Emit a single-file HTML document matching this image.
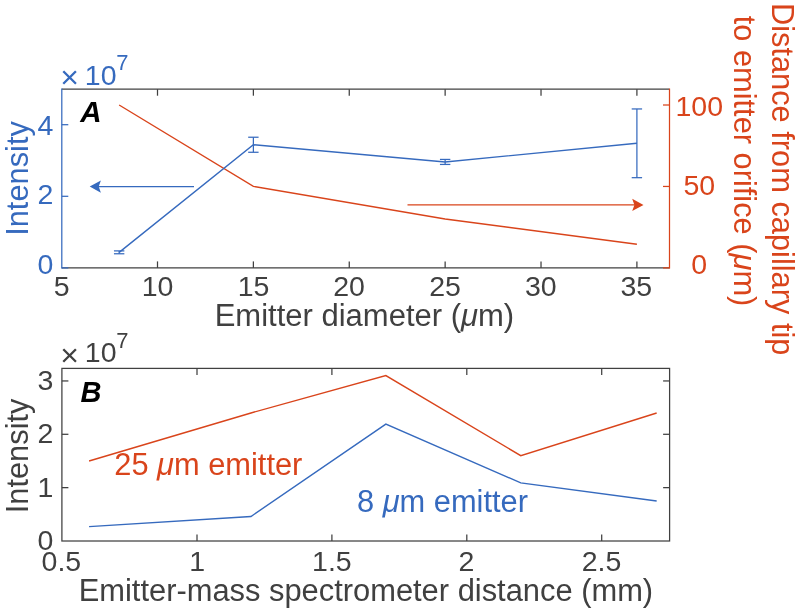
<!DOCTYPE html>
<html><head><meta charset="utf-8"><title>Figure</title>
<style>
html,body{margin:0;padding:0;background:#fff;}
body{width:800px;height:613px;overflow:hidden;}
svg{display:block;will-change:transform;}
svg text{font-family:"Liberation Sans",sans-serif;}
</style></head><body>
<svg width="800" height="613" viewBox="0 0 800 613">
<rect x="0" y="0" width="800" height="613" fill="#ffffff"/>
<g id="plotA">
<line x1="61.80" y1="89.20" x2="669.50" y2="89.20" stroke="#404040" stroke-width="1.25"/>
<line x1="61.80" y1="267.90" x2="669.50" y2="267.90" stroke="#404040" stroke-width="1.25"/>
<line x1="61.80" y1="88.58" x2="61.80" y2="268.52" stroke="#366abe" stroke-width="1.25"/>
<line x1="669.50" y1="88.58" x2="669.50" y2="268.52" stroke="#d9441b" stroke-width="1.25"/>
<text x="61.70" y="296.00" fill="#404040" font-size="28.5" text-anchor="middle" >5</text>
<line x1="157.50" y1="267.90" x2="157.50" y2="261.40" stroke="#404040" stroke-width="1.25"/>
<line x1="157.50" y1="89.20" x2="157.50" y2="95.70" stroke="#404040" stroke-width="1.25"/>
<text x="157.60" y="296.00" fill="#404040" font-size="28.5" text-anchor="middle" >10</text>
<line x1="253.38" y1="267.90" x2="253.38" y2="261.40" stroke="#404040" stroke-width="1.25"/>
<line x1="253.38" y1="89.20" x2="253.38" y2="95.70" stroke="#404040" stroke-width="1.25"/>
<text x="253.60" y="296.00" fill="#404040" font-size="28.5" text-anchor="middle" >15</text>
<line x1="349.26" y1="267.90" x2="349.26" y2="261.40" stroke="#404040" stroke-width="1.25"/>
<line x1="349.26" y1="89.20" x2="349.26" y2="95.70" stroke="#404040" stroke-width="1.25"/>
<text x="349.00" y="296.00" fill="#404040" font-size="28.5" text-anchor="middle" >20</text>
<line x1="445.14" y1="267.90" x2="445.14" y2="261.40" stroke="#404040" stroke-width="1.25"/>
<line x1="445.14" y1="89.20" x2="445.14" y2="95.70" stroke="#404040" stroke-width="1.25"/>
<text x="445.00" y="296.00" fill="#404040" font-size="28.5" text-anchor="middle" >25</text>
<line x1="541.02" y1="267.90" x2="541.02" y2="261.40" stroke="#404040" stroke-width="1.25"/>
<line x1="541.02" y1="89.20" x2="541.02" y2="95.70" stroke="#404040" stroke-width="1.25"/>
<text x="540.80" y="296.00" fill="#404040" font-size="28.5" text-anchor="middle" >30</text>
<line x1="636.90" y1="267.90" x2="636.90" y2="261.40" stroke="#404040" stroke-width="1.25"/>
<line x1="636.90" y1="89.20" x2="636.90" y2="95.70" stroke="#404040" stroke-width="1.25"/>
<text x="636.30" y="296.00" fill="#404040" font-size="28.5" text-anchor="middle" >35</text>
<line x1="61.80" y1="267.90" x2="68.30" y2="267.90" stroke="#366abe" stroke-width="1.25"/>
<text x="53.40" y="274.20" fill="#366abe" font-size="28.5" text-anchor="end" >0</text>
<line x1="61.80" y1="196.30" x2="68.30" y2="196.30" stroke="#366abe" stroke-width="1.25"/>
<text x="53.40" y="204.00" fill="#366abe" font-size="28.5" text-anchor="end" >2</text>
<line x1="61.80" y1="124.70" x2="68.30" y2="124.70" stroke="#366abe" stroke-width="1.25"/>
<text x="53.40" y="134.60" fill="#366abe" font-size="28.5" text-anchor="end" >4</text>
<line x1="669.50" y1="267.90" x2="663.00" y2="267.90" stroke="#d9441b" stroke-width="1.25"/>
<text x="699.30" y="274.30" fill="#d9441b" font-size="28.5" text-anchor="middle" >0</text>
<line x1="669.50" y1="186.45" x2="663.00" y2="186.45" stroke="#d9441b" stroke-width="1.25"/>
<text x="699.30" y="195.40" fill="#d9441b" font-size="28.5" text-anchor="middle" >50</text>
<line x1="669.50" y1="105.00" x2="663.00" y2="105.00" stroke="#d9441b" stroke-width="1.25"/>
<text x="699.30" y="115.50" fill="#d9441b" font-size="28.5" text-anchor="middle" >100</text>
<text x="60.3" y="88.2" fill="#366abe" font-size="32" text-anchor="start">×</text>
<text x="84.8" y="84.6" fill="#366abe" font-size="28.5" text-anchor="start">10<tspan dy="-14.3" dx="-0.3" font-size="22">7</tspan></text>
<polyline points="119.15,105.00 253.38,186.45 445.14,219.03 636.90,244.28" fill="none" stroke="#d9441b" stroke-width="1.4" stroke-linejoin="miter"/>
<polyline points="119.15,252.33 253.38,144.75 445.14,161.93 636.90,143.32" fill="none" stroke="#366abe" stroke-width="1.4" stroke-linejoin="miter"/>
<line x1="119.15" y1="250.89" x2="119.15" y2="253.76" stroke="#366abe" stroke-width="1.25"/>
<line x1="113.95" y1="250.89" x2="124.35" y2="250.89" stroke="#366abe" stroke-width="1.25"/>
<line x1="113.95" y1="253.76" x2="124.35" y2="253.76" stroke="#366abe" stroke-width="1.25"/>
<line x1="253.38" y1="137.23" x2="253.38" y2="152.27" stroke="#366abe" stroke-width="1.25"/>
<line x1="248.18" y1="137.23" x2="258.58" y2="137.23" stroke="#366abe" stroke-width="1.25"/>
<line x1="248.18" y1="152.27" x2="258.58" y2="152.27" stroke="#366abe" stroke-width="1.25"/>
<line x1="445.14" y1="159.43" x2="445.14" y2="164.44" stroke="#366abe" stroke-width="1.25"/>
<line x1="439.94" y1="159.43" x2="450.34" y2="159.43" stroke="#366abe" stroke-width="1.25"/>
<line x1="439.94" y1="164.44" x2="450.34" y2="164.44" stroke="#366abe" stroke-width="1.25"/>
<line x1="636.90" y1="108.95" x2="636.90" y2="177.68" stroke="#366abe" stroke-width="1.25"/>
<line x1="631.70" y1="108.95" x2="642.10" y2="108.95" stroke="#366abe" stroke-width="1.25"/>
<line x1="631.70" y1="177.68" x2="642.10" y2="177.68" stroke="#366abe" stroke-width="1.25"/>
<line x1="194.00" y1="186.60" x2="98.00" y2="186.60" stroke="#366abe" stroke-width="1.4"/>
<polygon points="89.7,186.6 100.9,180.5 98.7,186.6 100.9,192.7" fill="#366abe"/>
<line x1="407.50" y1="204.90" x2="635.50" y2="204.90" stroke="#d9441b" stroke-width="1.4"/>
<polygon points="643.5,204.9 632.2,198.8 634.4,204.9 632.2,211.0" fill="#d9441b"/>
<text x="80.27" y="121.70" fill="#000000" font-size="29.5" text-anchor="start" font-weight="bold" font-style="italic">A</text>
<text transform="translate(27.5,178.5) rotate(-90)" fill="#366abe" font-size="30.8" text-anchor="middle">Intensity</text>
<text x="364.4" y="325.7" fill="#404040" font-size="31" text-anchor="middle">Emitter diameter (<tspan font-style="italic">μ</tspan>m)</text>
<text transform="translate(772,179.2) rotate(90)" fill="#d9441b" font-size="30.8" text-anchor="middle">Distance from capillary tip</text>
<text transform="translate(733.7,161.0) rotate(90)" fill="#d9441b" font-size="30.8" text-anchor="middle">to emitter orifice (<tspan font-style="italic">μ</tspan>m)</text>
</g>
<g id="plotB">
<rect x="61.9" y="368.4" width="607.70" height="172.60" fill="none" stroke="#404040" stroke-width="1.25"/>
<text x="61.40" y="571.00" fill="#404040" font-size="28.5" text-anchor="middle" >0.5</text>
<line x1="197.00" y1="541.00" x2="197.00" y2="534.50" stroke="#404040" stroke-width="1.25"/>
<line x1="197.00" y1="368.40" x2="197.00" y2="374.90" stroke="#404040" stroke-width="1.25"/>
<text x="197.20" y="571.00" fill="#404040" font-size="28.5" text-anchor="middle" >1</text>
<line x1="331.90" y1="541.00" x2="331.90" y2="534.50" stroke="#404040" stroke-width="1.25"/>
<line x1="331.90" y1="368.40" x2="331.90" y2="374.90" stroke="#404040" stroke-width="1.25"/>
<text x="331.90" y="571.00" fill="#404040" font-size="28.5" text-anchor="middle" >1.5</text>
<line x1="466.80" y1="541.00" x2="466.80" y2="534.50" stroke="#404040" stroke-width="1.25"/>
<line x1="466.80" y1="368.40" x2="466.80" y2="374.90" stroke="#404040" stroke-width="1.25"/>
<text x="466.40" y="571.00" fill="#404040" font-size="28.5" text-anchor="middle" >2</text>
<line x1="601.70" y1="541.00" x2="601.70" y2="534.50" stroke="#404040" stroke-width="1.25"/>
<line x1="601.70" y1="368.40" x2="601.70" y2="374.90" stroke="#404040" stroke-width="1.25"/>
<text x="601.50" y="571.00" fill="#404040" font-size="28.5" text-anchor="middle" >2.5</text>
<text x="53.40" y="550.00" fill="#404040" font-size="28.5" text-anchor="end" >0</text>
<line x1="61.90" y1="487.65" x2="68.40" y2="487.65" stroke="#404040" stroke-width="1.25"/>
<line x1="669.60" y1="487.65" x2="663.10" y2="487.65" stroke="#404040" stroke-width="1.25"/>
<text x="53.40" y="496.65" fill="#404040" font-size="28.5" text-anchor="end" >1</text>
<line x1="61.90" y1="434.30" x2="68.40" y2="434.30" stroke="#404040" stroke-width="1.25"/>
<line x1="669.60" y1="434.30" x2="663.10" y2="434.30" stroke="#404040" stroke-width="1.25"/>
<text x="53.40" y="443.30" fill="#404040" font-size="28.5" text-anchor="end" >2</text>
<line x1="61.90" y1="380.95" x2="68.40" y2="380.95" stroke="#404040" stroke-width="1.25"/>
<line x1="669.60" y1="380.95" x2="663.10" y2="380.95" stroke="#404040" stroke-width="1.25"/>
<text x="53.40" y="389.95" fill="#404040" font-size="28.5" text-anchor="end" >3</text>
<text x="60.3" y="365.80" fill="#404040" font-size="32" text-anchor="start">×</text>
<text x="84.8" y="362.20" fill="#404040" font-size="28.5" text-anchor="start">10<tspan dy="-14.3" dx="-0.3" font-size="22">7</tspan></text>
<polyline points="89.08,460.98 250.96,412.96 385.86,375.62 520.76,455.64 656.66,412.96" fill="none" stroke="#d9441b" stroke-width="1.4" stroke-linejoin="miter"/>
<polyline points="89.08,526.60 250.96,516.46 385.86,424.16 520.76,482.85 656.66,500.99" fill="none" stroke="#366abe" stroke-width="1.4" stroke-linejoin="miter"/>
<text x="80.60" y="402.20" fill="#000000" font-size="29.0" text-anchor="start" font-weight="bold" font-style="italic">B</text>
<text x="114.3" y="475.3" fill="#d9441b" font-size="30.8" text-anchor="start">25 <tspan font-style="italic">μ</tspan>m emitter</text>
<text x="357" y="511.8" fill="#366abe" font-size="30.8" text-anchor="start">8 <tspan font-style="italic">μ</tspan>m emitter</text>
<text transform="translate(27.6,455.9) rotate(-90)" fill="#404040" font-size="30.8" text-anchor="middle">Intensity</text>
<text x="365.9" y="601.0" fill="#404040" font-size="30.87" text-anchor="middle">Emitter-mass spectrometer distance (mm)</text>
</g>
</svg></body></html>
